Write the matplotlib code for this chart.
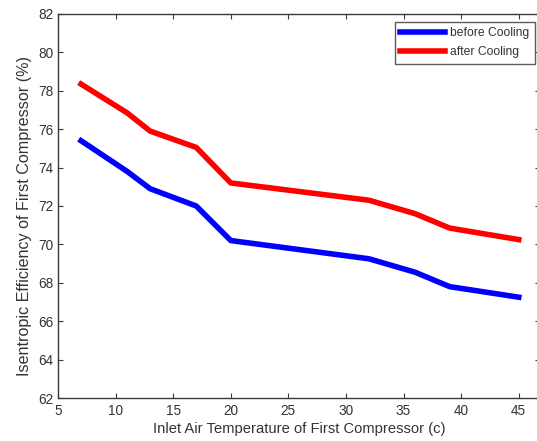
import matplotlib
matplotlib.use("Agg")
import matplotlib.pyplot as plt

plt.rcParams['font.family'] = ['Liberation Sans', 'DejaVu Sans']

# inlet air temperature (c)
temp = [7, 11, 13, 17, 20, 32, 36, 39, 45]
# isentropic efficiency (%)
eff_before = [75.4, 73.8, 72.9, 72.0, 70.2, 69.25, 68.55, 67.8, 67.25]
eff_after = [78.35, 76.85, 75.9, 75.05, 73.2, 72.3, 71.6, 70.85, 70.25]

x_ticks = [5, 10, 15, 20, 25, 30, 35, 40, 45]
y_ticks = [62, 64, 66, 68, 70, 72, 74, 76, 78, 80, 82]

fig = plt.figure(figsize=(5.37, 4.41), dpi=100)
ax = fig.add_axes([0.108, 0.0975, 0.8975, 0.8708])

ax.plot(temp, eff_before, color='#0000ff', lw=4.0, label='before Cooling')
ax.plot(temp, eff_after, color='#ff0000', lw=4.0, label='after Cooling')

ax.set_xlim(5, 46.84)
ax.set_ylim(62, 82)
ax.set_xticks(x_ticks)
ax.set_yticks(y_ticks)

for s in ax.spines.values():
    s.set_color('#3a3a3a')
    s.set_linewidth(1.0)
ax.tick_params(direction='in', length=3.5, width=0.8, color='#3a3a3a',
               top=True, right=True, labelsize=9.8, labelcolor='#333333')
ax.tick_params(axis='x', pad=4.5)
ax.tick_params(axis='y', pad=3.5)

ax.set_xlabel('Inlet Air Temperature of First Compressor (c)', fontsize=10.6,
              color='#333333', labelpad=3)
ax.set_ylabel('Isentropic Efficiency of First Compressor (%)', fontsize=11.6,
              color='#333333')
ax.yaxis.set_label_coords(-0.054, 0.474)

leg = ax.legend(loc='upper right', bbox_to_anchor=(0.9896, 0.979), fontsize=8.7,
                frameon=True, fancybox=False, handlelength=3.7, handletextpad=0.45,
                borderpad=0.45, labelspacing=0.55, borderaxespad=0)
leg.get_frame().set_edgecolor('#333333')
leg.get_frame().set_linewidth(1.0)
for t in leg.get_texts():
    t.set_color('#333333')

fig.savefig('out.png', dpi=100)
